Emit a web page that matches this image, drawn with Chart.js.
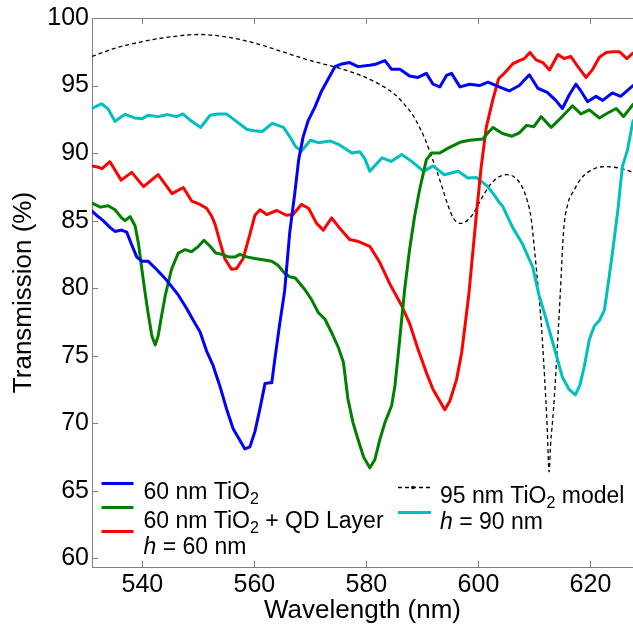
<!DOCTYPE html>
<html><head><meta charset="utf-8">
<script src="https://cdn.jsdelivr.net/npm/chart.js@4.4.0/dist/chart.umd.min.js"></script>
<style>html,body{margin:0;padding:0;background:#fff;}canvas{display:block;}</style>
</head><body>
<canvas id="c" width="633" height="631"></canvas>
<script>
const xTicks = [540, 560, 580, 600, 620];
const yTicks = [60, 65, 70, 75, 80, 85, 90, 95, 100];

const blueWl = [531, 531.8, 533, 534.2, 535.1, 536.3, 537.2, 538.1, 539, 539.9, 541, 542.5, 544.3, 546.4, 547.9, 549.1, 550.3, 551.5, 552.6, 553.8, 555, 556.2, 557.4, 558.3, 559.2, 560.1, 561, 561.9, 562.8, 563.1, 563.6, 564.5, 565.4, 566.3, 567.2, 567.9, 568.7, 569.6, 570.8, 572, 573.2, 574.4, 575.6, 577, 578.5, 580.6, 581.8, 583.3, 584.5, 586, 587.7, 589.2, 590.7, 591.9, 593.1, 594.3, 595.2, 596.7, 598.4, 600.2, 601.7, 603.7, 605.5, 607.3, 609.1, 610.6, 612.3, 613.8, 615, 616.2, 617.4, 618.3, 619.5, 621, 622.2, 623.9, 625.4, 627.6];
const blueT = [85.7, 85.4, 85.0, 84.5, 84.2, 84.3, 84.15, 83.2, 82.3, 82.0, 82.0, 81.4, 80.6, 79.5, 78.5, 77.6, 76.75, 75.3, 74.3, 72.8, 71.1, 69.6, 68.75, 68.1, 68.25, 69.4, 71.1, 72.95, 73.0, 73.0, 74.6, 77.3, 79.8, 84.1, 87.0, 89.5, 91.2, 92.4, 93.4, 94.6, 95.5, 96.4, 96.6, 96.7, 96.4, 96.5, 96.6, 96.85, 96.2, 96.2, 95.7, 95.6, 95.9, 95.1, 94.9, 95.75, 95.9, 94.9, 95.1, 95.0, 95.25, 94.9, 94.6, 95.0, 95.8, 94.8, 94.5, 93.9, 93.3, 94.3, 95.1, 94.6, 93.8, 94.2, 93.9, 94.45, 94.2, 95.0];

const greenWl = [531, 532.5, 533.9, 535.1, 536.3, 536.9, 537.8, 538.7, 539.3, 539.9, 540.5, 541, 541.7, 542.3, 542.8, 543.4, 544.1, 545.2, 546.4, 547.6, 548.8, 550, 551, 552.1, 553.1, 554.2, 555.5, 556.5, 557.4, 558.8, 560.1, 561.5, 563.1, 564.2, 565.4, 566.3, 567.3, 569, 570.2, 571.4, 572.6, 573.8, 575, 575.9, 576.7, 577.6, 578.5, 579.5, 580.6, 581.5, 582.4, 583.3, 584.5, 585.1, 585.7, 586.3, 586.8, 587.7, 588.6, 589.5, 590.7, 591.6, 593.1, 594.5, 596.7, 598.4, 600.8, 601.7, 602.6, 604.3, 606, 607.3, 608.6, 609.9, 611.2, 613, 614.6, 616.8, 618.3, 619.8, 621.6, 623, 624.6, 625.9, 627.6];
const greenT = [86.3, 86.0, 86.1, 85.8, 85.2, 85.0, 85.3, 84.6, 83.3, 81.4, 79.6, 78.2, 76.45, 75.8, 76.45, 77.9, 79.5, 81.4, 82.6, 82.85, 82.7, 83.1, 83.55, 83.1, 82.6, 82.5, 82.3, 82.3, 82.5, 82.3, 82.2, 82.1, 82.0, 81.7, 81.1, 80.85, 80.75, 79.9, 79.15, 78.2, 77.7, 76.7, 75.6, 74.5, 71.8, 70.05, 68.8, 67.5, 66.7, 67.3, 68.8, 70.05, 71.3, 72.8, 75.2, 77.7, 79.8, 82.85, 85.3, 87.3, 89.5, 90.0, 90.0, 90.35, 90.8, 90.95, 91.05, 91.5, 91.9, 91.45, 91.25, 91.5, 92.05, 91.95, 92.7, 91.9, 92.55, 93.5, 92.9, 93.2, 92.6, 92.95, 93.3, 92.7, 93.6];

const redWl = [531, 532.2, 532.8, 534.2, 536.2, 538.1, 540.2, 542.8, 545.3, 547.3, 548.8, 550.3, 551.5, 552.4, 553, 553.8, 554.7, 555.9, 556.8, 558, 559.2, 560.1, 561, 562.2, 564, 565.7, 566.9, 568.4, 569.7, 571.1, 572.3, 573.8, 575.2, 577, 578.6, 580.6, 582.4, 584.2, 586.3, 587.7, 589.2, 590.7, 591.9, 593.1, 594, 594.9, 596.1, 597, 597.6, 598.3, 599.6, 600.5, 601.4, 602.6, 603.6, 604.6, 606.1, 607.3, 608.2, 609.2, 610.3, 611.5, 612.7, 614.2, 615.3, 616.5, 617.6, 619.2, 620.4, 621.6, 622.8, 624, 625.2, 626.5, 627.6];
const redT = [89.05, 88.95, 88.85, 89.36, 88.0, 88.57, 87.52, 88.4, 87.0, 87.45, 86.45, 86.2, 85.9, 85.3, 84.7, 83.5, 82.2, 81.4, 81.45, 82.2, 84.0, 85.4, 85.8, 85.45, 85.75, 85.4, 85.45, 86.2, 85.9, 84.8, 84.3, 85.2, 84.45, 83.6, 83.45, 83.1, 81.9, 80.3, 78.7, 77.4, 75.5, 73.75, 72.5, 71.65, 71.0, 71.65, 73.25, 75.2, 77.2, 79.6, 85.3, 89.0, 91.9, 94.0, 95.5, 95.9, 96.6, 96.85, 97.0, 97.45, 96.9, 96.7, 96.15, 97.3, 97.0, 97.15, 96.5, 95.6, 96.2, 97.1, 97.45, 97.5, 97.5, 97.0, 97.4];

const cyanWl = [531, 532.7, 533.9, 535.1, 536.9, 538.6, 540, 541, 542.8, 544.5, 546.1, 547.2, 548.8, 550.4, 552.1, 553.5, 555, 556.6, 558.7, 560, 561.4, 563.2, 565.2, 566.5, 567.3, 568.4, 570, 571.4, 573.5, 575.2, 577.4, 578.8, 579.7, 580.6, 582.8, 584.4, 586.3, 588.2, 590.2, 591.9, 593.9, 596.4, 598.1, 599.6, 601.6, 603, 603.8, 604.3, 606.1, 607.9, 609.7, 610.8, 612.1, 613.8, 615, 616.2, 617.3, 618.1, 618.9, 619.8, 620.7, 621.6, 622.5, 623.1, 624, 624.9, 625.7, 626.6, 627.6];
const cyanT = [93.3, 93.65, 93.25, 92.35, 92.87, 92.6, 92.55, 92.8, 92.7, 92.85, 92.7, 92.9, 92.35, 91.9, 92.8, 92.9, 92.9, 92.4, 91.75, 91.65, 91.6, 92.2, 91.9, 91.1, 90.5, 90.15, 90.95, 90.77, 90.9, 90.6, 90.0, 90.1, 89.6, 88.65, 89.65, 89.38, 89.9, 89.35, 88.65, 89.05, 88.4, 88.65, 88.15, 88.2, 87.55, 86.8, 86.3, 86.1, 84.5, 83.25, 81.55, 79.5, 77.7, 75.2, 73.4, 72.5, 72.1, 72.8, 74.2, 76.2, 77.2, 77.6, 78.4, 80.1, 82.85, 85.8, 89.0, 90.2, 92.4];

const modelWl = [531, 535, 540, 545, 550, 555, 560, 565, 570, 575, 579, 582.5, 585.2, 587, 588.3, 589.5, 590.5, 591.5, 592.5, 593.5, 594.5, 595.5, 596.7, 598, 599.2, 600.5, 602, 603.5, 605, 606.5, 607.8, 608.7, 609.4, 610, 610.6, 611.2, 611.8, 612.3, 612.6, 612.9, 613.4, 614, 614.6, 615.2, 616, 617, 618.3, 620, 622.5, 625, 627.6];
const modelT = [97.15, 97.75, 98.25, 98.6, 98.78, 98.6, 98.15, 97.5, 96.85, 96.3, 95.75, 95.05, 94.3, 93.5, 92.8, 91.9, 91.0, 89.9, 88.75, 87.5, 86.2, 85.2, 84.8, 85.0, 85.6, 86.6, 87.6, 88.2, 88.4, 88.2, 87.5, 86.5, 85.2, 82.9, 80.3, 77.5, 73.5, 69.5, 66.4, 68.5, 71.0, 75.0, 79.5, 84.2, 86.3, 87.2, 88.1, 88.7, 89.0, 88.9, 88.6];

const legendLeft = [
  [{t: '60 nm TiO'}, {t: '2', sub: true}],
  [{t: '60 nm TiO'}, {t: '2', sub: true}, {t: ' + QD Layer'}],
  [{t: 'h', it: true}, {t: ' = 60 nm'}]
];
const legendRight = [
  [{t: '95 nm TiO'}, {t: '2', sub: true}, {t: ' model'}],
  [{t: 'h', it: true}, {t: ' = 90 nm'}]
];

const FONT = '"Liberation Sans", Arial, Helvetica, sans-serif';
const AXIS = '#808080';
const pts = (xs, ys) => xs.map((x, i) => ({x: x, y: ys[i]}));

function drawRich(ctx, x, base, parts, size) {
  let cx = x;
  parts.forEach(p => {
    const fs = p.sub ? Math.round(size * 0.68) : size;
    ctx.font = (p.it ? 'italic ' : '') + fs + 'px ' + FONT;
    ctx.fillText(p.t, cx, base + (p.sub ? 5.5 : 0));
    cx += ctx.measureText(p.t).width;
  });
}

const framePlugin = {
  id: 'frame',
  beforeDatasetsDraw(chart) {
    const {ctx, chartArea: a, scales: {x, y}} = chart;
    ctx.save();
    ctx.strokeStyle = AXIS; ctx.lineWidth = 1;
    ctx.beginPath();
    ctx.moveTo(a.left, Math.round(a.top) + 0.5); ctx.lineTo(a.right, Math.round(a.top) + 0.5);
    xTicks.forEach(v => {
      const px = Math.round(x.getPixelForValue(v)) + 0.5;
      ctx.moveTo(px, a.top); ctx.lineTo(px, a.top + 6);
      ctx.moveTo(px, a.bottom); ctx.lineTo(px, a.bottom - 6);
    });
    yTicks.forEach(v => {
      const py = Math.round(y.getPixelForValue(v)) + 0.5;
      ctx.moveTo(a.left, py); ctx.lineTo(a.left + 6, py);
    });
    ctx.stroke();
    ctx.restore();
  },
  afterDraw(chart) {
    const ctx = chart.ctx;
    ctx.save();
    ctx.fillStyle = '#000';
    ctx.textBaseline = 'alphabetic';
    ctx.textAlign = 'left';
    ctx.lineCap = 'butt';
    const leftCols = ['#0000ff', '#008000', '#ff0000'];
    const leftLineY = [483.5, 507.5, 531.5];
    const leftBase = [498.5, 527.5, 554];
    leftCols.forEach((c, i) => {
      ctx.strokeStyle = c; ctx.lineWidth = 3; ctx.setLineDash([]);
      ctx.beginPath(); ctx.moveTo(101.5, leftLineY[i]); ctx.lineTo(133.5, leftLineY[i]); ctx.stroke();
      drawRich(ctx, 143.5, leftBase[i], legendLeft[i], 23);
    });
    // model sample
    ctx.strokeStyle = '#000'; ctx.lineWidth = 1.3; ctx.setLineDash([4, 3]);
    ctx.beginPath(); ctx.moveTo(398, 487.5); ctx.lineTo(431, 487.5); ctx.stroke();
    ctx.setLineDash([]);
    ctx.beginPath(); ctx.arc(413, 487.5, 1.8, 0, Math.PI * 2); ctx.fillStyle = '#000'; ctx.fill();
    drawRich(ctx, 440, 502.5, legendRight[0], 23);
    ctx.strokeStyle = '#00bfbf'; ctx.lineWidth = 3;
    ctx.beginPath(); ctx.moveTo(398, 512.5); ctx.lineTo(431, 512.5); ctx.stroke();
    drawRich(ctx, 440, 529, legendRight[1], 23);
    ctx.restore();
  }
};

const lineDs = (data, color) => ({
  data: data, borderColor: color, borderWidth: 3, pointRadius: 0, tension: 0,
  fill: false, borderJoinStyle: 'round', borderCapStyle: 'round'
});

new Chart(document.getElementById('c'), {
  type: 'line',
  data: {
    datasets: [
      lineDs(pts(blueWl, blueT), '#0000ff'),
      lineDs(pts(greenWl, greenT), '#008000'),
      lineDs(pts(redWl, redT), '#ff0000'),
      lineDs(pts(cyanWl, cyanT), '#00bfbf'),
      {
        data: pts(modelWl, modelT), borderColor: '#000', borderWidth: 1.3, borderDash: [4, 3],
        pointRadius: 0, cubicInterpolationMode: 'monotone', fill: false
      }
    ]
  },
  options: {
    responsive: false,
    animation: false,
    events: [],
    devicePixelRatio: 1,
    layout: {padding: {top: 15.5, left: 0, right: 0, bottom: 0}},
    plugins: {legend: {display: false}, tooltip: {enabled: false}},
    scales: {
      x: {
        type: 'linear', min: 531, max: 627.6,
        grid: {display: false, drawTicks: false},
        border: {display: true, color: AXIS, width: 1},
        ticks: {font: {family: FONT, size: 25}, color: '#000', padding: 3, maxRotation: 0},
        afterBuildTicks: s => { s.ticks = xTicks.map(v => ({value: v})); },
        afterFit: s => { s.height = 64; },
        title: {display: true, text: 'Wavelength (nm)', color: '#000', font: {family: FONT, size: 26}, padding: {top: 0, bottom: 5}}
      },
      y: {
        type: 'linear', min: 59.36, max: 100,
        grid: {display: false, drawTicks: false},
        border: {display: true, color: AXIS, width: 1},
        ticks: {font: {family: FONT, size: 25}, color: '#000', padding: 3},
        afterBuildTicks: s => { s.ticks = yTicks.map(v => ({value: v})); },
        afterFit: s => { s.width = 92; },
        title: {display: true, text: 'Transmission (%)', color: '#000', font: {family: FONT, size: 26}, padding: {top: 8, bottom: 0}}
      }
    }
  },
  plugins: [framePlugin]
});
</script>
</body></html>
